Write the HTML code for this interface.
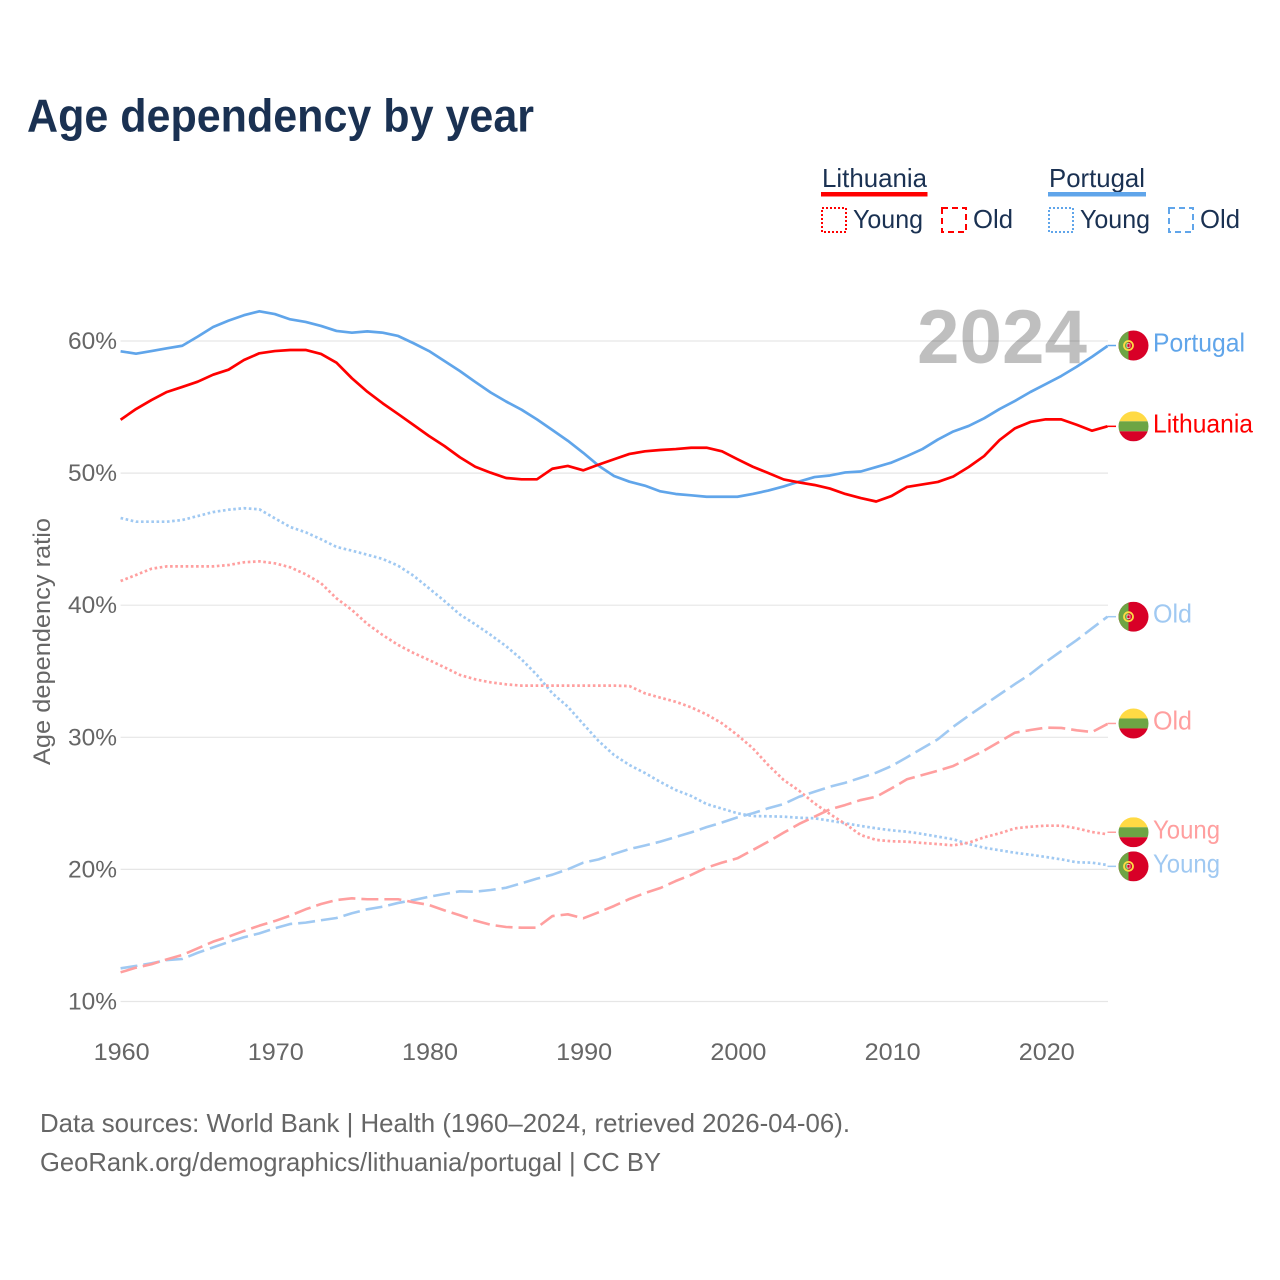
<!DOCTYPE html>
<html lang="en">
<head>
<meta charset="utf-8">
<title>Age dependency by year</title>
<style>
html,body{margin:0;padding:0;background:#fff;width:1280px;height:1280px;overflow:hidden}
svg{display:block}
text{font-family:"Liberation Sans",sans-serif}
</style>
</head>
<body>
<svg id="chart" xmlns="http://www.w3.org/2000/svg" width="1280" height="1280" viewBox="0 0 1280 1280">
  <rect width="1280" height="1280" fill="#fff"/>
  <text x="27" y="131.500" font-size="46" font-weight="700" fill="#1a3152" textLength="507" lengthAdjust="spacingAndGlyphs">Age dependency by year</text>

  <g>
    <g>
      <text x="822" y="187" font-size="26" fill="#1a3152" textLength="105" lengthAdjust="spacingAndGlyphs">Lithuania</text>
      <rect x="821" y="192" width="106.500" height="4.500" fill="#ff0000"/>
    </g>
    <g>
      <rect x="822" y="208" width="24" height="24" fill="none" stroke="#ff0000" stroke-width="2" stroke-dasharray="2 2"/>
      <text x="853" y="228" font-size="26" fill="#1a3152" textLength="70" lengthAdjust="spacingAndGlyphs">Young</text>
    </g>
    <g>
      <rect x="942" y="208" width="24" height="24" fill="none" stroke="#ff0000" stroke-width="2" stroke-dasharray="6 4"/>
      <text x="973" y="228" font-size="26" fill="#1a3152" textLength="40" lengthAdjust="spacingAndGlyphs">Old</text>
    </g>
    <g>
      <text x="1049" y="187" font-size="26" fill="#1a3152" textLength="96" lengthAdjust="spacingAndGlyphs">Portugal</text>
      <rect x="1048" y="192" width="98" height="4.500" fill="#60a5ea"/>
    </g>
    <g>
      <rect x="1049" y="208" width="24" height="24" fill="none" stroke="#60a5ea" stroke-width="2" stroke-dasharray="2 2"/>
      <text x="1080" y="228" font-size="26" fill="#1a3152" textLength="70" lengthAdjust="spacingAndGlyphs">Young</text>
    </g>
    <g>
      <rect x="1169" y="208" width="24" height="24" fill="none" stroke="#60a5ea" stroke-width="2" stroke-dasharray="6 4"/>
      <text x="1200" y="228" font-size="26" fill="#1a3152" textLength="40" lengthAdjust="spacingAndGlyphs">Old</text>
    </g>
  </g>

  <g id="grid"></g>
  <g id="yticks"></g>
  <g id="xticks"></g>
  <text transform="translate(50,765) rotate(-90)" font-size="24" fill="#666666" textLength="247" lengthAdjust="spacingAndGlyphs">Age dependency ratio</text>
  <text x="917" y="363" font-size="76" font-weight="700" fill="#000" fill-opacity="0.25" textLength="170" lengthAdjust="spacingAndGlyphs">2024</text>
  <g id="series"></g>
  <g id="labels"></g>

  <text x="40" y="1132" font-size="26" fill="#666666" textLength="810" lengthAdjust="spacingAndGlyphs">Data sources: World Bank | Health (1960–2024, retrieved 2026-04-06).</text>
  <text x="40" y="1171" font-size="26" fill="#666666" textLength="621" lengthAdjust="spacingAndGlyphs">GeoRank.org/demographics/lithuania/portugal | CC BY</text>
</svg>

<script>
const years = [1960,1961,1962,1963,1964,1965,1966,1967,1968,1969,1970,1971,1972,1973,1974,1975,1976,1977,1978,1979,1980,1981,1982,1983,1984,1985,1986,1987,1988,1989,1990,1991,1992,1993,1994,1995,1996,1997,1998,1999,2000,2001,2002,2003,2004,2005,2006,2007,2008,2009,2010,2011,2012,2013,2014,2015,2016,2017,2018,2019,2020,2021,2022,2023,2024];
const yTickValues = [10,20,30,40,50,60];
const xTickValues = [1960,1970,1980,1990,2000,2010,2020];

const portugalTotal = [59.22,59.04,59.24,59.45,59.64,60.33,61.06,61.54,61.95,62.25,62.04,61.64,61.44,61.14,60.76,60.63,60.73,60.63,60.38,59.83,59.24,58.49,57.73,56.9,56.1,55.42,54.8,54.07,53.26,52.45,51.54,50.56,49.78,49.35,49.05,48.62,48.42,48.32,48.21,48.21,48.21,48.42,48.68,48.99,49.36,49.7,49.82,50.05,50.12,50.46,50.8,51.29,51.82,52.54,53.15,53.57,54.15,54.85,55.46,56.14,56.74,57.35,58.05,58.81,59.62];
const lithuaniaTotal = [54.04,54.85,55.53,56.14,56.52,56.92,57.45,57.83,58.56,59.07,59.24,59.32,59.32,59.02,58.36,57.18,56.16,55.28,54.47,53.64,52.81,52.05,51.2,50.48,50.03,49.63,49.53,49.53,50.33,50.54,50.21,50.64,51.05,51.45,51.65,51.75,51.82,51.92,51.92,51.65,51.05,50.48,50.01,49.52,49.29,49.1,48.83,48.42,48.11,47.85,48.27,48.95,49.14,49.33,49.74,50.46,51.29,52.5,53.39,53.87,54.07,54.07,53.66,53.21,53.54];
const portugalYoung = [46.6,46.32,46.32,46.32,46.45,46.75,47.05,47.23,47.34,47.26,46.58,45.92,45.52,44.99,44.41,44.13,43.82,43.5,42.99,42.23,41.28,40.32,39.3,38.55,37.75,36.9,35.9,34.72,33.33,32.32,31.01,29.72,28.66,27.9,27.3,26.62,26.01,25.56,24.95,24.6,24.25,24.04,24.02,23.99,23.91,23.87,23.69,23.49,23.29,23.11,22.96,22.85,22.68,22.48,22.28,21.92,21.64,21.45,21.26,21.11,20.94,20.76,20.54,20.51,20.33];
const lithuaniaYoung = [41.83,42.29,42.76,42.94,42.94,42.94,42.94,43.04,43.25,43.32,43.17,42.87,42.34,41.66,40.52,39.64,38.58,37.74,36.99,36.38,35.85,35.3,34.72,34.39,34.16,34.01,33.91,33.91,33.91,33.91,33.91,33.91,33.91,33.88,33.33,33,32.69,32.27,31.73,31.06,30.17,29.17,27.9,26.77,25.96,25,24.19,23.44,22.6,22.23,22.13,22.1,22,21.92,21.82,22.02,22.43,22.73,23.11,23.23,23.31,23.31,23.11,22.83,22.66];
const portugalOld = [12.51,12.69,12.89,13.14,13.22,13.69,14.1,14.5,14.86,15.16,15.54,15.87,15.97,16.15,16.32,16.68,16.98,17.18,17.46,17.68,17.93,18.14,18.34,18.31,18.44,18.61,18.95,19.3,19.6,20.01,20.51,20.76,21.17,21.54,21.81,22.1,22.45,22.8,23.2,23.55,23.94,24.25,24.63,24.95,25.5,25.88,26.26,26.56,26.94,27.32,27.83,28.49,29.17,29.85,30.8,31.64,32.44,33.24,34.03,34.79,35.7,36.53,37.35,38.25,39.13];
const lithuaniaOld = [12.21,12.56,12.82,13.19,13.52,14.03,14.53,14.91,15.34,15.74,16.09,16.5,16.98,17.38,17.68,17.81,17.74,17.74,17.74,17.51,17.31,16.9,16.53,16.12,15.81,15.64,15.59,15.59,16.47,16.6,16.3,16.75,17.23,17.76,18.21,18.59,19.12,19.58,20.13,20.51,20.84,21.47,22.1,22.78,23.44,23.99,24.55,24.88,25.25,25.5,26.14,26.82,27.15,27.47,27.83,28.41,28.99,29.67,30.35,30.55,30.73,30.71,30.53,30.4,31.01];

const NS = 'http://www.w3.org/2000/svg';
function xScale(year) { return 120.6 + (year - 1960) * 15.42; }
function yScale(value) { return 1001.5 - (value - 10) * 13.21; }
function make(tag, attrs, parent) {
  const el = document.createElementNS(NS, tag);
  for (const k in attrs) el.setAttribute(k, attrs[k]);
  parent.appendChild(el);
  return el;
}

const gridG = document.getElementById('grid');
const yG = document.getElementById('yticks');
const xG = document.getElementById('xticks');
const seriesG = document.getElementById('series');
const labelsG = document.getElementById('labels');

yTickValues.forEach(function (v) {
  const line = make('line', {x1: 120.6, x2: 1108, y1: yScale(v), y2: yScale(v), stroke: '#e6e6e6', 'stroke-width': 1.2}, gridG);
  
  
  const t = make('text', {x: 68, y: yScale(v) + 8, 'font-size': 24, fill: '#666666', textLength: 49, lengthAdjust: 'spacingAndGlyphs'}, yG);
  t.textContent = v + '%';
  
  
});

xTickValues.forEach(function (yr) {
  const t = make('text', {x: xScale(yr) - 27, y: 1060, 'font-size': 24, fill: '#666666', textLength: 56, lengthAdjust: 'spacingAndGlyphs'}, xG);
  t.textContent = String(yr);
  
  
});

const BLUE = '#60a5ea', RED = '#ff0000', LBLUE = '#a0c9f2', LRED = '#ff9f9f';
const seriesList = [
  {id: 'portugal-young', vals: portugalYoung, color: LBLUE, dash: '2.6 2.6', w: 2.7, label: 'Young', flag: 'pt', shift: 1.3, tl: 67},
  {id: 'lithuania-young', vals: lithuaniaYoung, color: LRED, dash: '2.6 2.6', w: 2.7, label: 'Young', flag: 'lt', shift: -2, tl: 67},
  {id: 'portugal-old', vals: portugalOld, color: LBLUE, dash: '17 6', w: 2.6, label: 'Old', flag: 'pt', shift: 0, tl: 39},
  {id: 'lithuania-old', vals: lithuaniaOld, color: LRED, dash: '17 6', w: 2.6, label: 'Old', flag: 'lt', shift: -0.5, tl: 39},
  {id: 'portugal-total', vals: portugalTotal, color: BLUE, dash: null, w: 2.7, label: 'Portugal', flag: 'pt', shift: -0.5, tl: 92},
  {id: 'lithuania-total', vals: lithuaniaTotal, color: RED, dash: null, w: 2.7, label: 'Lithuania', flag: 'lt', shift: 0, tl: 100}
];

function drawFlag(kind, cx, cy, name) {
  const g = make('g', {}, labelsG);
  
  
  const r = 15;
  const clipId = 'clip-' + name;
  const defs = make('clipPath', {id: clipId}, g);
  make('circle', {cx: cx, cy: cy, r: r}, defs);
  const inner = make('g', {'clip-path': 'url(#' + clipId + ')'}, g);
  if (kind === 'lt') {
    make('rect', {x: cx - r, y: cy - r, width: 2 * r, height: 10, fill: '#ffda44'}, inner);
    make('rect', {x: cx - r, y: cy - 5, width: 2 * r, height: 10, fill: '#6da544'}, inner);
    make('rect', {x: cx - r, y: cy + 5, width: 2 * r, height: 10, fill: '#d80027'}, inner);
  } else {
    make('rect', {x: cx - r, y: cy - r, width: 2 * r, height: 2 * r, fill: '#d80027'}, inner);
    make('rect', {x: cx - r, y: cy - r, width: 10, height: 2 * r, fill: '#6da544'}, inner);
    make('circle', {cx: cx - 5, cy: cy, r: 4.5, fill: 'none', stroke: '#ffda44', 'stroke-width': 1.8}, inner);
    make('rect', {x: cx - 6.5, y: cy - 1.7, width: 3, height: 3.4, fill: '#d80027', stroke: '#fff', 'stroke-width': 0.6}, inner);
  }
}

seriesList.forEach(function (s) {
  const pts = s.vals.map(function (v, i) { return xScale(years[i]).toFixed(2) + ',' + yScale(v).toFixed(2); });
  const lastY = yScale(s.vals[s.vals.length - 1]);
  const labelY = lastY + s.shift;
  const attrs = {points: pts.join(' '), fill: 'none', stroke: s.color, 'stroke-width': s.w, 'stroke-linejoin': 'round'};
  if (s.dash) attrs['stroke-dasharray'] = s.dash;
  const line = make('polyline', attrs, seriesG);
  
  

  const conn = make('line', {x1: xScale(years[years.length - 1]), y1: labelY, x2: 1116, y2: labelY, stroke: s.color, 'stroke-width': 1.5}, seriesG);
  
  

  drawFlag(s.flag, 1133.5, labelY, 'flag-' + s.id);

  const t = make('text', {x: 1153, y: labelY + 6, 'font-size': 26, fill: s.color, textLength: s.tl, lengthAdjust: 'spacingAndGlyphs'}, labelsG);
  t.textContent = s.label;
  
  
});
</script>
</body>
</html>
